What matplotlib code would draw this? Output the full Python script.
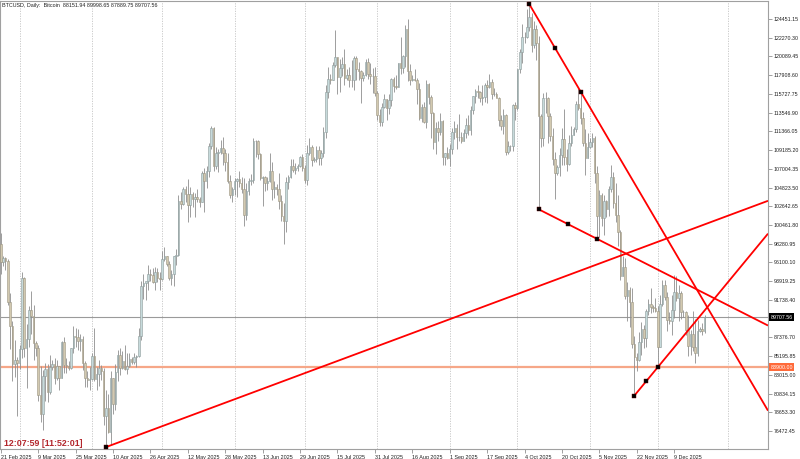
import matplotlib
matplotlib.use('Agg')
import matplotlib.pyplot as plt
import matplotlib.transforms as mtransforms
import numpy as np
import pandas as pd

plt.rcParams['font.family'] = ['Liberation Sans', 'DejaVu Sans']

# daily BTCUSD candles, 21 Feb 2025 .. 22 Dec 2025, prices in thousands USD
# (open of each bar = close of the bar before)
first_open = 98.3
skipped_days = ['2025-09-28', '2025-11-16', '2025-12-07']  # broker has no bar on these days

closes = [
    # Feb
    96.1, 96.6, 96.3, 91.5, 88.7, 84.3, 84.7, 84.4,
    # Mar
    86.0, 94.3, 86.1, 87.2, 90.6, 89.9, 86.7, 86.1, 80.7, 78.5, 82.9, 83.7, 81.0, 83.9, 84.3, 82.6,
    84.0, 82.7, 86.8, 84.2, 84.0, 83.8, 86.1, 87.5, 87.4, 86.9, 87.2, 84.4, 82.6, 82.4, 82.5,
    # Apr
    85.2, 82.5, 83.1, 83.8, 83.5, 78.2, 79.2, 76.3, 82.6, 79.6, 83.4, 85.3, 83.8, 84.6, 83.7, 84.0,
    84.9, 84.5, 85.1, 85.2, 87.5, 93.4, 93.7, 93.9, 94.7, 94.6, 93.8, 95.0, 94.3, 94.2,
    # May
    96.5, 96.9, 95.9, 94.3, 94.7, 96.8, 97.0, 103.2, 102.9, 104.6, 104.1, 102.8, 104.1, 103.5, 103.7, 103.5,
    103.1, 106.5, 105.6, 106.8, 109.7, 111.7, 107.3, 108.9, 109.0, 109.4, 108.9, 107.8, 105.6, 103.9, 104.6,
    # Jun
    105.6, 105.8, 105.4, 104.7, 101.6, 104.4, 105.6, 105.7, 110.3, 110.2, 108.7, 105.9, 106.0, 105.4, 105.6,
    106.8, 104.6, 104.9, 104.6, 103.3, 101.5, 100.9, 105.5, 106.0, 107.3, 106.9, 107.1, 107.3, 108.4, 107.1,
    # Jul
    105.7, 108.8, 109.6, 108.0, 108.2, 109.2, 108.3, 108.9, 111.3, 115.9, 117.5, 117.4, 119.1, 120.0, 117.7, 118.8,
    119.2, 117.6, 117.9, 117.3, 117.4, 119.9, 118.6, 118.4, 117.6, 117.9, 119.4, 118.0, 117.8, 117.8, 115.8,
    # Aug
    113.3, 112.5, 114.2, 115.1, 114.1, 115.0, 117.5, 116.7, 116.5, 119.3, 118.7, 120.2, 123.3, 118.4, 117.4, 117.5,
    117.4, 116.3, 112.9, 114.2, 112.5, 116.9, 115.4, 113.5, 110.1, 111.8, 111.3, 112.6, 108.4, 108.8, 108.3,
    # Sep
    109.3, 111.3, 111.8, 110.7, 110.7, 110.2, 111.2, 112.1, 111.5, 113.9, 115.5, 116.1, 115.9, 115.3, 115.4,
    116.8, 116.5, 117.1, 115.7, 115.7, 115.3, 112.7, 112.0, 113.3, 109.0, 109.7, 109.7, 114.4, 114.1,
    # Oct
    118.6, 120.6, 122.3, 122.4, 123.5, 124.7, 121.4, 123.3, 121.7, 113.2, 110.6, 115.2, 115.3, 113.1, 110.8, 108.2,
    106.5, 107.2, 108.6, 110.5, 108.4, 107.6, 110.0, 111.0, 111.6, 114.5, 114.1, 112.9, 110.0, 108.3, 109.6,
    # Nov
    110.1, 110.6, 106.5, 101.5, 103.9, 101.3, 103.3, 102.3, 104.7, 106.0, 103.0, 101.6, 99.7, 94.5, 95.6,
    92.2, 92.9, 91.5, 86.6, 85.1, 84.7, 86.8, 88.3, 87.3, 90.5, 91.3, 90.9, 90.8, 90.4,
    # Dec
    86.3, 91.3, 93.5, 92.1, 89.4, 89.3, 90.6, 92.7, 92.0, 92.5, 90.3, 90.3, 88.2, 86.4, 87.8, 86.2,
    85.5, 88.1, 88.3, 88.15194, 89.70756,
]

highs = [
    99.5, 96.9, 96.7, 96.5, 92.5, 89.3, 87.1, 85.1,
    86.5, 95.0, 94.4, 88.9, 91.0, 92.8, 91.2, 86.9, 86.5, 84.0, 83.6, 84.4, 84.3, 85.3, 84.7, 85.0,
    84.7, 84.0, 87.0, 87.4, 85.0, 84.6, 86.1, 88.7, 88.5, 88.3, 87.8, 87.5, 84.6, 83.5, 83.9,
    85.6, 88.5, 83.9, 84.7, 84.2, 83.8, 81.2, 80.8, 83.5, 82.7, 84.3, 85.9, 86.1, 85.8, 86.5, 85.5,
    85.5, 85.1, 85.6, 85.3, 88.5, 93.9, 94.7, 93.8, 95.8, 95.3, 95.4, 95.6, 95.5, 95.0,
    97.4, 97.9, 96.9, 96.3, 95.2, 96.9, 97.7, 104.0, 104.3, 104.9, 105.0, 105.8, 104.9, 104.3, 104.2, 104.6,
    103.7, 106.7, 107.1, 107.3, 110.0, 112.0, 111.9, 109.5, 109.3, 110.4, 110.7, 109.3, 108.9, 106.3, 104.9,
    105.9, 105.9, 106.8, 106.0, 105.9, 105.4, 105.9, 106.4, 110.6, 110.4, 110.4, 108.9, 106.2, 106.2, 106.0,
    108.9, 107.8, 105.6, 105.2, 106.5, 104.0, 103.0, 106.1, 106.3, 108.1, 108.2, 107.7, 107.6, 108.5, 108.7,
    107.5, 109.8, 110.6, 109.8, 108.4, 109.7, 109.7, 109.2, 111.9, 116.8, 118.9, 118.0, 119.5, 123.2, 120.0, 119.8,
    120.0, 120.9, 118.6, 118.9, 119.7, 120.2, 120.1, 119.5, 118.5, 118.3, 119.8, 119.9, 119.3, 118.8, 118.9,
    116.1, 114.0, 114.7, 115.7, 115.1, 115.7, 117.6, 117.7, 117.9, 119.3, 122.3, 120.3, 123.7, 124.4, 119.2, 117.9,
    118.6, 117.6, 117.0, 114.6, 114.8, 117.4, 117.0, 115.6, 113.6, 112.4, 112.6, 113.5, 112.7, 108.9, 109.5,
    109.9, 111.8, 112.6, 112.2, 113.4, 111.3, 111.6, 112.9, 113.3, 114.3, 115.5, 116.3, 116.8, 116.1, 116.8,
    117.0, 117.3, 118.0, 117.5, 116.4, 116.0, 115.4, 113.3, 114.0, 113.4, 110.3, 109.8, 114.5, 114.8,
    118.6, 121.0, 123.9, 122.9, 125.6, 126.2, 125.1, 124.2, 123.8, 122.5, 113.4, 115.8, 115.9, 115.4, 113.5, 111.8,
    109.0, 107.5, 109.4, 111.7, 114.0, 109.3, 111.0, 112.0, 111.9, 114.9, 116.4, 116.0, 113.6, 111.6, 111.2,
    110.6, 111.2, 110.8, 107.3, 104.5, 104.2, 104.0, 103.4, 105.0, 107.4, 106.6, 105.3, 104.0, 99.9, 96.8,
    96.6, 93.8, 93.2, 93.1, 87.5, 85.6, 88.0, 89.2, 88.8, 90.7, 91.9, 93.1, 91.2, 92.0,
    91.0, 92.3, 94.1, 94.1, 92.7, 90.3, 92.3, 94.6, 94.5, 93.5, 92.8, 90.6, 90.5, 90.0, 88.2, 90.4,
    89.5, 89.4, 88.6, 89.1, 89.99865,
]

lows = [
    94.8, 95.7, 95.2, 91.2, 86.0, 82.3, 82.8, 78.2,
    83.7, 85.0, 85.1, 81.5, 86.3, 87.8, 84.7, 85.2, 80.0, 77.5, 76.6, 80.0, 79.9, 80.8, 83.6, 82.0,
    82.4, 81.2, 82.6, 83.2, 83.2, 83.6, 83.7, 85.5, 86.3, 85.9, 85.8, 83.6, 81.6, 81.6, 81.3,
    82.4, 82.3, 81.2, 81.7, 82.4, 77.2, 74.6, 76.2, 74.8, 78.5, 78.9, 82.3, 83.0, 83.7, 83.6, 83.1,
    83.9, 84.3, 84.3, 83.9, 85.1, 87.1, 91.9, 91.7, 92.9, 93.9, 93.7, 92.9, 93.8, 92.9,
    94.1, 96.3, 95.7, 94.1, 93.5, 93.4, 95.8, 96.9, 102.3, 102.8, 103.1, 100.8, 101.4, 102.6, 101.4, 103.1,
    102.6, 103.1, 102.0, 104.8, 106.1, 109.3, 106.8, 107.0, 106.6, 108.7, 107.5, 106.8, 105.3, 103.6, 103.1,
    103.9, 103.7, 104.9, 104.2, 100.4, 101.1, 103.9, 105.1, 105.3, 108.4, 108.1, 105.7, 102.7, 104.4, 104.5,
    105.5, 103.4, 103.6, 103.9, 102.3, 100.9, 98.2, 99.6, 104.7, 105.9, 106.6, 106.4, 106.8, 107.2, 106.8,
    105.3, 105.1, 108.6, 107.3, 107.8, 107.8, 107.5, 107.5, 108.4, 110.6, 115.2, 116.9, 117.3, 118.9, 115.7, 115.9,
    117.8, 116.8, 117.3, 116.5, 116.5, 116.2, 117.3, 117.4, 114.7, 117.2, 117.8, 117.5, 116.9, 115.8, 115.5,
    112.7, 112.0, 112.0, 114.1, 112.7, 113.4, 114.3, 115.9, 116.3, 116.5, 118.1, 118.2, 118.9, 117.2, 116.8, 117.2,
    117.2, 114.6, 112.7, 112.4, 112.3, 111.7, 114.5, 110.6, 109.3, 108.7, 110.3, 110.9, 107.5, 107.4, 108.1,
    107.3, 108.7, 110.5, 109.3, 110.2, 110.0, 110.2, 110.6, 110.9, 110.9, 113.4, 114.7, 115.3, 114.8, 114.4,
    114.8, 114.7, 116.4, 115.1, 115.5, 115.4, 112.0, 111.5, 111.1, 108.6, 108.7, 109.1, 109.1, 112.7,
    113.9, 118.2, 119.3, 121.6, 122.2, 123.1, 120.6, 121.1, 119.7, 102.3, 109.6, 109.7, 113.5, 110.0, 110.2, 107.5,
    103.5, 106.3, 106.2, 107.5, 107.4, 106.7, 107.5, 109.7, 110.9, 111.3, 113.8, 112.2, 109.7, 106.3, 108.3,
    109.4, 109.5, 105.3, 98.85, 99.1, 100.3, 99.3, 101.4, 101.5, 104.3, 102.5, 100.8, 98.0, 94.0, 94.5,
    91.8, 89.3, 88.6, 86.1, 80.6, 83.5, 84.6, 85.3, 86.1, 86.3, 90.0, 90.2, 90.3, 90.3,
    83.9, 86.2, 91.0, 91.7, 88.1, 88.9, 87.7, 89.6, 91.6, 89.3, 89.5, 89.8, 87.6, 85.2, 85.3, 85.8,
    84.4, 85.2, 88.0, 87.6, 87.88975,
]

price_ticks = [124451.15, 122270.30, 120089.45, 117908.60, 115727.75, 113546.90, 111366.05,
               109185.20, 107004.35, 104823.50, 102642.65, 100461.80, 98280.95, 96100.10,
               93919.25, 91738.40, 87376.70, 85195.85, 83015.00, 80834.15, 78653.30, 76472.45]
bid_price = 89707.56
level_price = 83900.00

# trend lines: two anchor points (date, price); drawn as rays to the right
trend_lines = [
    [('2025-10-06', 126200), ('2025-10-28', 116000), True],
    [('2025-10-10', 102300), ('2025-11-04', 98850), True],
    [('2025-04-07', 74600), ('2025-12-22', 100530), False],
    [('2025-11-21', 80600), ('2025-12-01', 83900), True],
]

title = 'BTCUSD, Daily:  Bitcoin  88151.94 89998.65 87889.75 89707.56'
clock = '12:07:59 [11:52:01]'

# ---------------------------------------------------------------
days = pd.date_range('2025-02-21', '2025-12-22')
days = days[~days.isin(pd.to_datetime(skipped_days))]
c = np.array(closes) * 1000
h = np.array(highs) * 1000
l = np.array(lows) * 1000
o = np.r_[first_open * 1000, c[:-1]]
x = np.arange(len(days))


def bar_of(d):
    d = pd.Timestamp(d)
    if d in days:
        return days.get_loc(d)
    return len(days) - 1 + (d - days[-1]).days


W, H = 800, 459
fig = plt.figure(figsize=(W / 100, H / 100), dpi=100)
ax = fig.add_axes([0, 10 / H, 768 / W, 448 / H])

px_per_bar = 2.338
x0 = 0.8
ax.set_xlim(-x0 / px_per_bar, (768 - x0) / px_per_bar)
ax.set_ylim(74377.6, 126547.2)

# month grid
for m in pd.date_range('2025-03-01', '2026-01-01', freq='MS'):
    ax.axvline(bar_of(m), color='#c4c4c4', lw=0.6, ls=(0, (1.5, 1.5)), zorder=0)

# candles
up = c >= o
ax.vlines(x, l, h, color='#8e8e8e', lw=0.6, zorder=2)
bottom = np.minimum(o, c)
height = np.abs(c - o)
ax.bar(x[up], height[up], bottom=bottom[up], width=0.65, color='#c6dadb',
       edgecolor='#8c9a9a', lw=0.4, zorder=3)
ax.bar(x[~up], height[~up], bottom=bottom[~up], width=0.65, color='#d2c9b0',
       edgecolor='#9c9582', lw=0.4, zorder=3)

# horizontal lines
ax.axhline(bid_price, color='#9a9a9a', lw=0.8, zorder=1)
ax.axhline(level_price, color='#f6a788', lw=1.6, zorder=1)

# trend lines
x_end = ax.get_xlim()[1]
for (da, pa), (db, pb), handles in trend_lines:
    xa, xb = bar_of(da), bar_of(db)
    y_end = pa + (pb - pa) / (xb - xa) * (x_end - xa)
    ax.plot([xa, x_end], [pa, y_end], color='#ff0000', lw=1.3, zorder=5, solid_capstyle='butt')
    if handles:
        ax.plot([xa, (xa + xb) / 2, xb], [pa, (pa + pb) / 2, pb], 's', color='black',
                ms=2.6, mec='#600000', mew=0.3, zorder=6)
    else:
        ax.plot([xa], [pa], 's', color='black', ms=2.6, mec='#600000', mew=0.3, zorder=6, clip_on=False)

# axes look
for s in ax.spines.values():
    s.set_color('#a0a0a0')
    s.set_linewidth(0.8)
ax.yaxis.tick_right()
ax.set_yticks(price_ticks)
ax.set_yticklabels([f'{p:.2f}' for p in price_ticks])
label_bars = list(range(0, len(days), 16))
ax.set_xticks(label_bars)
ax.set_xticklabels([f'{days[i].day} {days[i]:%b %Y}' for i in label_bars], ha='left')
ax.tick_params(axis='both', length=3, width=0.6, color='#909090',
               labelcolor='#202020', pad=1.2)
ax.tick_params(axis='y', labelsize=3.8)
ax.tick_params(axis='x', labelsize=3.9)

# price boxes on the scale
ytr = mtransforms.blended_transform_factory(ax.transAxes, ax.transData)
ax.text(1.003, bid_price, f'{bid_price:.2f}', transform=ytr, fontsize=3.8, color='white',
        va='center', ha='left', bbox=dict(boxstyle='square,pad=0.3', fc='black', ec='none'), zorder=7)
ax.text(1.003, level_price, f'{level_price:.2f}', transform=ytr, fontsize=3.8, color='white',
        va='center', ha='left', bbox=dict(boxstyle='square,pad=0.3', fc='#ff6a3a', ec='none'), zorder=7)

fig.text(2 / W, 1 - 5 / H, title, fontsize=3.9, color='#202020', va='center', ha='left')
fig.text(4 / W, 1 - 443 / H, clock, fontsize=6.4, weight='bold', color='#b3262c', va='center', ha='left')

fig.savefig('out.png', dpi=100)
